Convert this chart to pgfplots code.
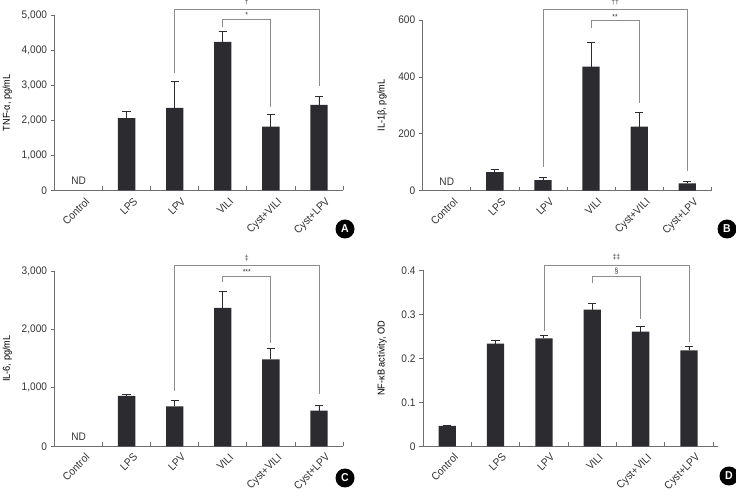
\documentclass[border=0pt]{standalone}
\usepackage{fontspec}
\setmainfont{Liberation Sans}[FakeStretch=0.92]
\usepackage{pgfplots}
\pgfplotsset{compat=1.18}
\usepackage{pgfplotstable}

\definecolor{barc}{HTML}{2B2B30}
\definecolor{axc}{HTML}{6E6E6E}
\definecolor{brc}{HTML}{8C8C8C}
\definecolor{txc}{HTML}{333333}

\pgfplotstableread{
x y e
1 2059 190
2 2353 759
3 4231 295
4 1822 341
5 2438 247
}\dataA
\pgfplotstableread{
x y e
1 65.6 8
2 37.5 8
3 436 85
4 225 49
5 25.8 6
}\dataB
\pgfplotstableread{
x y e
1 861 23
2 684 107
3 2367 279
4 1489 188
5 610 86
}\dataC
\pgfplotstableread{
x y e
0 0.0462 0.0015
1 0.2333 0.0076
2 0.2455 0.0060
3 0.3106 0.0144
4 0.2606 0.0121
5 0.2182 0.0098
}\dataD

\newcommand{\mf}{\fontsize{11}{12.5}\selectfont}
\tikzset{sig/.style={font=\fontsize{7.5}{8}\selectfont, text=txc},
         nd/.style={anchor=base, yshift=5.5bp, text=txc, font=\mf}}

\pgfplotsset{
 panel/.style={
   scale only axis,
   anchor=south west,
   axis lines*=left,
   axis line style={axc, line width=0.8bp},
   xmin=-0.5, xmax=5.5,
   ymin=0,
   xtick={-0.5,0.5,...,5.5},
   x tick label as interval,
   xticklabels={Control,LPS,LPV,VILI,Cyst+VILI,Cyst+LPV},
   xtick align=inside, ytick align=outside,
   major tick length=4bp,
   tick style={axc, line width=0.8bp},
   clip=false,
   /pgf/number format/assume math mode=true,
   /pgf/number format/1000 sep={,},
   tick label style={font=\mf, text=txc},
   x tick label style={xshift=6bp, yshift=-1.5bp, rotate=45, anchor=north east},
   label style={font=\fontsize{12}{13}\selectfont, text=txc},
   every axis y label/.style={at={(axis description cs:-0.164,0.5)}, rotate=90, anchor=center},
 },
 barplot/.style={ybar, bar width=17.3bp, fill=barc, draw=none,
   error bars/.cd, y dir=plus, y explicit,
   error bar style={color=barc, line width=0.9bp},
   error mark options={rotate=90, mark size=4.2bp, line width=0.9bp, barc}},
 bracket/.style={brc, line width=0.8bp, sharp plot, no markers, forget plot},
}

\begin{document}
\begin{tikzpicture}
\path[use as bounding box] (0,0) rectangle (736bp,492bp);

% Panel A
\begin{axis}[panel, at={(54.5bp,301.5bp)}, width=288.5bp, height=175.5bp,
  ymax=5000, ytick={0,1000,...,5000}, ylabel={TNF-α, pg/mL}]
\addplot[barplot] table[x=x, y=y, y error=e] {\dataA};
\addplot[bracket] coordinates {(2,3340) (2,5160) (5,5160) (5,2979)};
\addplot[bracket] coordinates {(3,4668) (3,4877) (4,4877) (4,2391)};
\node[sig] at (axis cs:3.5,5370) {†};
\node[sig] at (axis cs:3.5,4990) {*};
\node[nd] at (axis cs:0,0) {ND};
\end{axis}

% Panel B
\begin{axis}[panel, at={(422.7bp,301.3bp)}, width=288.6bp, height=170.7bp,
  ymax=600, ytick={0,200,...,600}, ylabel={IL-1β, pg/mL},
  every axis y label/.style={at={(axis description cs:-0.141,0.5)}, rotate=90, anchor=center}]
\addplot[barplot] table[x=x, y=y, y error=e] {\dataB};
\addplot[bracket] coordinates {(2,84) (2,637) (5,637) (5,70)};
\addplot[bracket] coordinates {(3,571) (3,600) (4,600) (4,309)};
\node[sig] at (axis cs:3.5,663) {††};
\node[sig] at (axis cs:3.5,612) {**};
\node[nd] at (axis cs:0,0) {ND};
\end{axis}

% Panel C
\begin{axis}[panel, at={(54.5bp,45.7bp)}, width=288.5bp, height=175.3bp,
  ymax=3000, ytick={0,1000,...,3000}, ylabel={IL-6, pg/mL}]
\addplot[barplot] table[x=x, y=y, y error=e] {\dataC};
\addplot[bracket] coordinates {(2,947) (2,3102) (5,3102) (5,890)};
\addplot[bracket] coordinates {(3,2812) (3,2909) (4,2909) (4,1774)};
\node[sig] at (axis cs:3.5,3215) {‡};
\node[sig] at (axis cs:3.5,2990) {***};
\node[nd] at (axis cs:0,0) {ND};
\end{axis}

% Panel D
\begin{axis}[panel, at={(423bp,45.7bp)}, width=295bp, height=176bp,
  xmax=5.6,
  ymax=0.4, ytick={0,0.1,...,0.4}, ylabel={NF-κB activity, OD},
  every axis y label/.style={at={(axis description cs:-0.139,0.5)}, rotate=90, anchor=center}]
\addplot[barplot] table[x=x, y=y, y error=e] {\dataD};
\addplot[bracket] coordinates {(2,0.262) (2,0.412) (5,0.412) (5,0.237)};
\addplot[bracket] coordinates {(3,0.3705) (3,0.3864) (4,0.3864) (4,0.2886)};
\node[sig] at (axis cs:3.5,0.429) {‡‡};
\node[sig] at (axis cs:3.5,0.398) {§};
\end{axis}

\tikzset{pl/.style={circle, fill=black, text=white, inner sep=0pt, minimum size=19bp, font=\bfseries\fontsize{11.5}{12}\selectfont}}
\node[pl] at (345bp,263bp) {A};
\node[pl] at (727bp,263bp) {B};
\node[pl] at (345bp,14bp) {C};
\node[pl] at (729bp,16bp) {D};
\end{tikzpicture}
\end{document}
